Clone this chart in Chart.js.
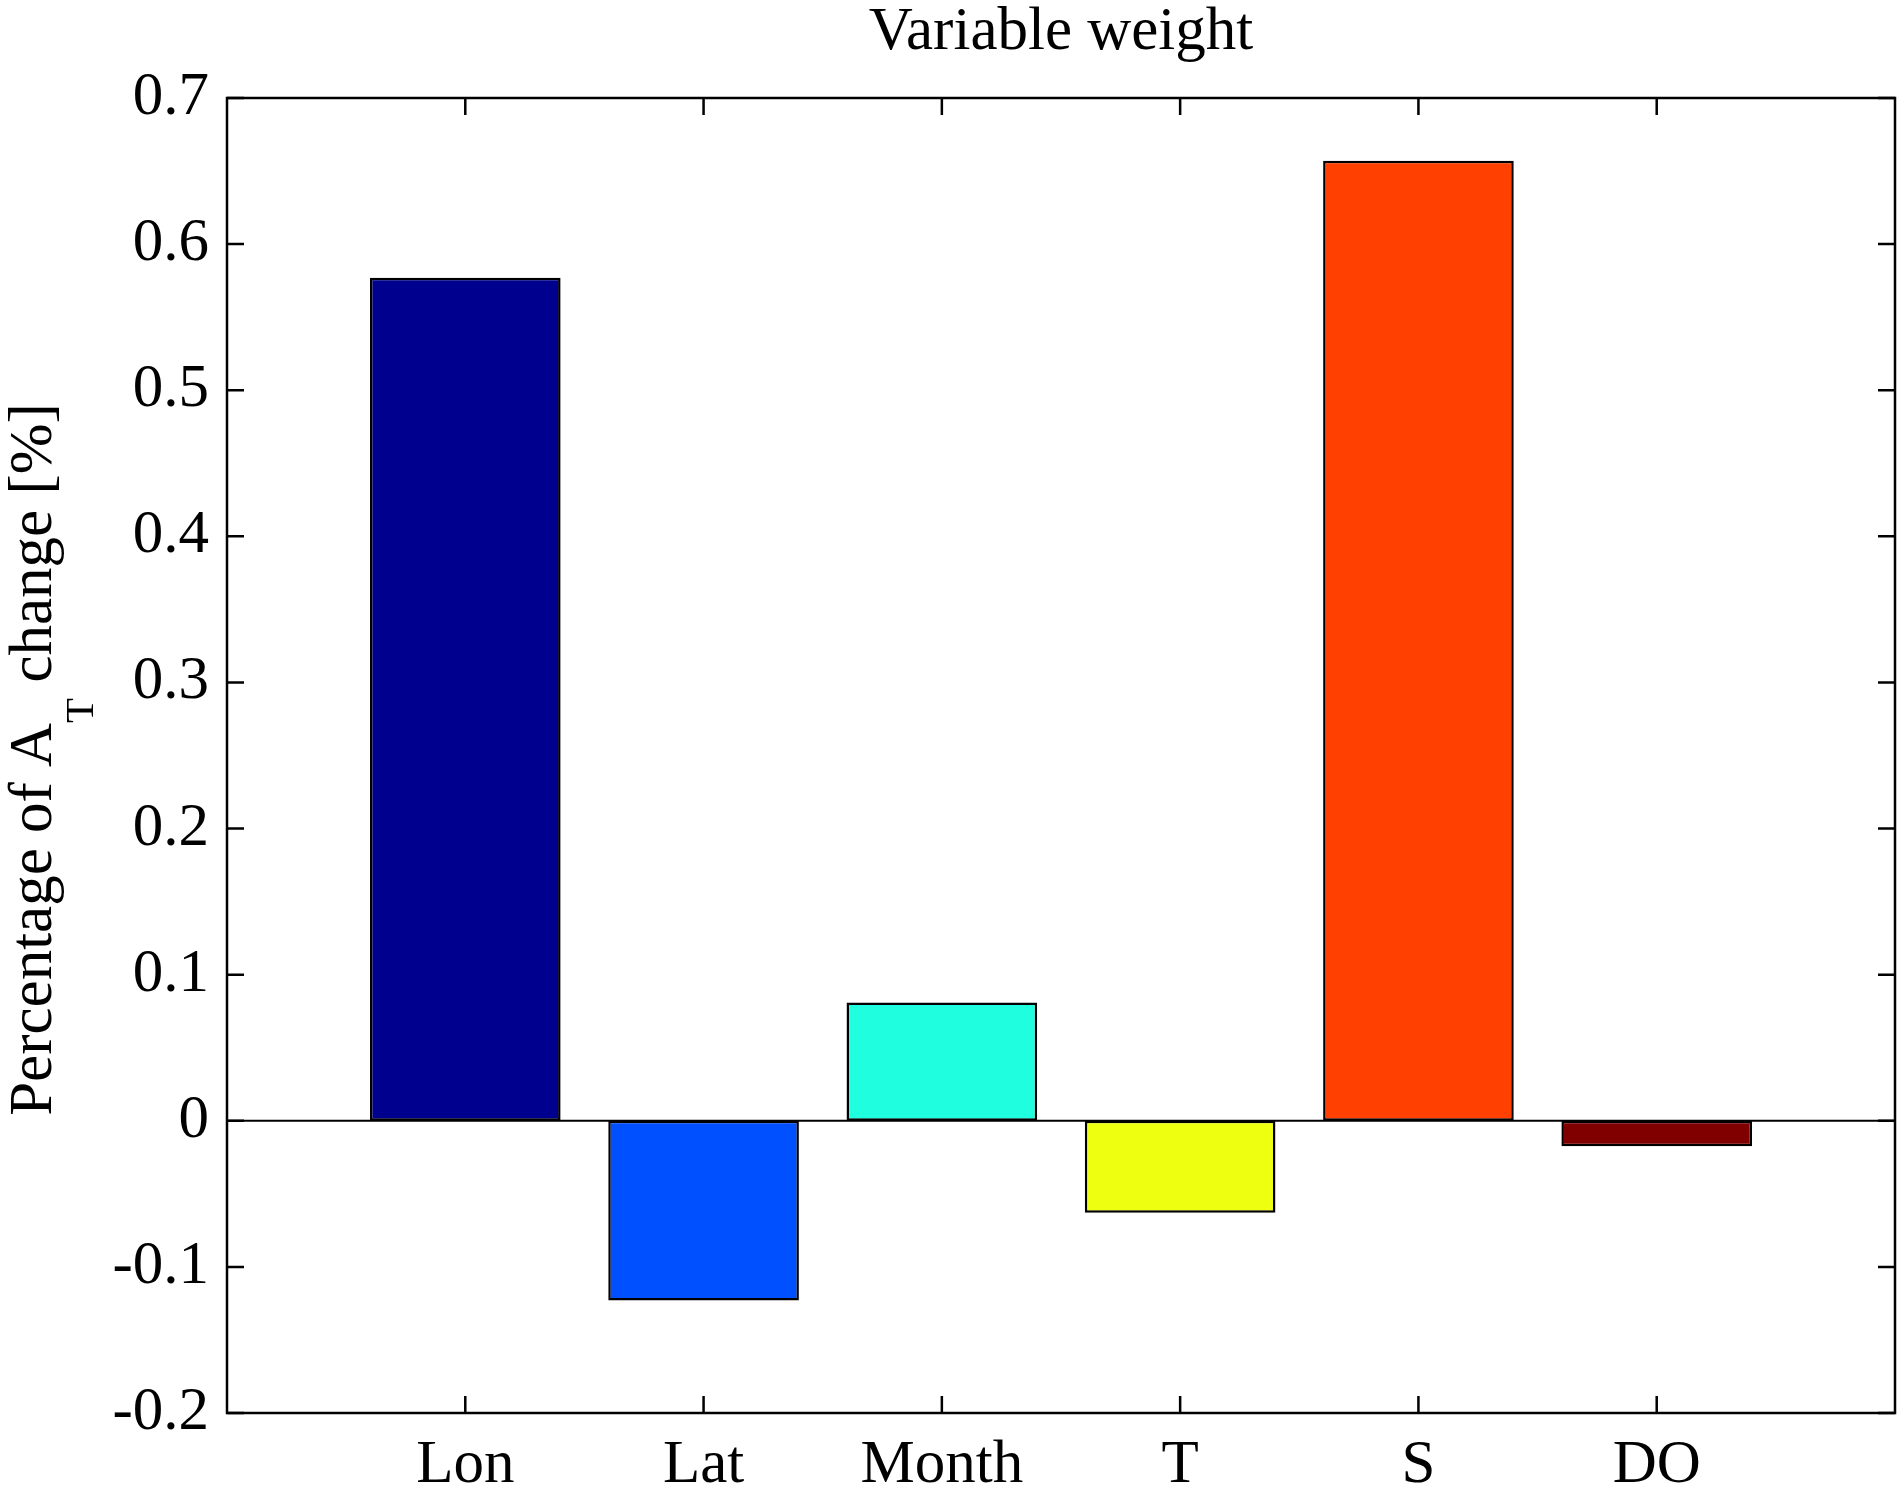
<!DOCTYPE html>
<html>
<head>
<meta charset="utf-8">
<title>Variable weight</title>
<script src="https://cdn.jsdelivr.net/npm/chart.js@4.4.1/dist/chart.umd.min.js"></script>
<style>
  html, body { margin: 0; padding: 0; background: #fff; }
  #wrap { width: 1902px; height: 1491px; }
</style>
</head>
<body>
<div id="wrap"><canvas id="grafico"></canvas></div>
<script>
// datos
const categorias = ['Lon', 'Lat', 'Month', 'T', 'S', 'DO'];
const valores    = [0.577, -0.123, 0.081, -0.063, 0.657, -0.0175];
const colores    = ['#00008f', '#0050ff', '#1fffe0', '#efff10', '#ff4000', '#800000'];
const yTicks     = [-0.2, -0.1, 0, 0.1, 0.2, 0.3, 0.4, 0.5, 0.6, 0.7];

const FUENTE = 'Liberation Serif, Times New Roman, serif';
const TAM = 61;

// marco, ticks hacia dentro, linea del cero, titulo y etiqueta del eje y
const marcoPlugin = {
  id: 'marco',
  afterDatasetsDraw(chart) {
    const { ctx, chartArea: a, scales } = chart;
    const largo = 17;
    ctx.save();
    ctx.strokeStyle = '#000';
    ctx.lineWidth = 2;
    // linea del cero
    const y0 = scales.y.getPixelForValue(0);
    ctx.beginPath();
    ctx.moveTo(a.left, y0);
    ctx.lineTo(a.right, y0);
    ctx.stroke();

    ctx.lineWidth = 2.5;
    ctx.strokeRect(a.left, a.top, a.right - a.left, a.bottom - a.top);
    ctx.beginPath();
    yTicks.forEach(v => {
      const py = scales.y.getPixelForValue(v);
      ctx.moveTo(a.left, py); ctx.lineTo(a.left + largo, py);
      ctx.moveTo(a.right, py); ctx.lineTo(a.right - largo, py);
    });
    categorias.forEach((c, i) => {
      const px = scales.x.getPixelForValue(i + 1);
      ctx.moveTo(px, a.bottom); ctx.lineTo(px, a.bottom - largo);
      ctx.moveTo(px, a.top); ctx.lineTo(px, a.top + largo);
    });
    ctx.stroke();
    ctx.restore();
  },
  afterDraw(chart) {
    const { ctx, chartArea: a } = chart;
    ctx.save();
    ctx.fillStyle = '#000';
    // titulo
    ctx.font = TAM + 'px ' + FUENTE;
    ctx.textAlign = 'center';
    ctx.textBaseline = 'alphabetic';
    ctx.fillText('Variable weight', (a.left + a.right) / 2, 49);

    // etiqueta del eje y con subindice
    const p1 = 'Percentage of A', sub = 'T', p2 = ' change [%]';
    const subTam = 41;
    ctx.font = TAM + 'px ' + FUENTE;
    const w1 = ctx.measureText(p1).width;
    const w3 = ctx.measureText(p2).width;
    ctx.font = subTam + 'px ' + FUENTE;
    const w2 = ctx.measureText(sub).width;
    const total = w1 + w2 + w3;
    ctx.translate(51, (a.top + a.bottom) / 2 + 4);
    ctx.rotate(-Math.PI / 2);
    ctx.textAlign = 'left';
    let x = -total / 2;
    ctx.font = TAM + 'px ' + FUENTE;
    ctx.fillText(p1, x, 0);
    x += w1;
    ctx.font = subTam + 'px ' + FUENTE;
    ctx.fillText(sub, x, 42);
    x += w2;
    ctx.font = TAM + 'px ' + FUENTE;
    ctx.fillText(p2, x, 0);
    ctx.restore();
  }
};

const ctx = document.getElementById('grafico').getContext('2d');
new Chart(ctx, {
  type: 'bar',
  data: {
    datasets: [{
      data: valores.map((v, i) => ({ x: i + 1, y: v })),
      backgroundColor: colores,
      borderColor: '#000',
      borderWidth: 2.5,
      borderSkipped: false,
      categoryPercentage: 1,
      barPercentage: 0.8
    }]
  },
  options: {
    responsive: true,
    maintainAspectRatio: false,
    animation: false,
    layout: { padding: { top: 98, right: 7, bottom: 0, left: 0 } },
    plugins: {
      legend: { display: false },
      tooltip: { enabled: false },
      title: { display: false }
    },
    scales: {
      x: {
        type: 'linear',
        min: 0,
        max: 7,
        offset: false,
        grid: { display: false, drawTicks: false, offset: false },
        border: { display: false },
        afterBuildTicks(scale) {
          scale.ticks = categorias.map((c, i) => ({ value: i + 1 }));
        },
        afterFit(scale) { scale.height = 78; },
        ticks: {
          autoSkip: false,
          maxRotation: 0,
          padding: 16,
          color: '#000',
          font: { family: FUENTE, size: TAM, lineHeight: 1.2 },
          callback: v => categorias[v - 1] || ''
        }
      },
      y: {
        min: -0.2,
        max: 0.7,
        grid: { display: false, drawTicks: false },
        border: { display: false },
        afterBuildTicks(scale) {
          scale.ticks = yTicks.map(v => ({ value: v }));
        },
        afterFit(scale) { scale.width = 227; },
        ticks: {
          padding: 18,
          color: '#000',
          font: { family: FUENTE, size: TAM },
          callback: v => (Math.abs(v) < 1e-9 ? '0' : v.toFixed(1))
        }
      }
    }
  },
  plugins: [marcoPlugin]
});
</script>
</body>
</html>
